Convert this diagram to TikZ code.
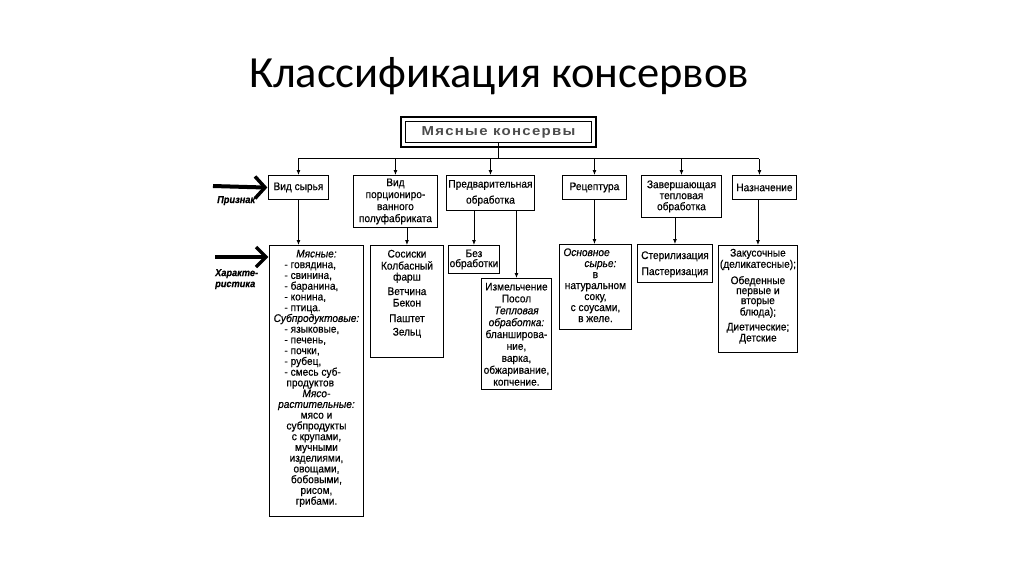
\documentclass[tikz,border=0pt]{standalone}
\usepackage{fontspec}
\setmainfont[FakeStretch=0.92,FakeBold=0.5]{Liberation Sans}
\newfontfamily\titlefont{Carlito}
\newfontfamily\outfont[FakeStretch=1.15,LetterSpace=10]{Liberation Sans}
\usetikzlibrary{arrows.meta,calc}
% box with text starting at top: width, height, top pad, baselineskip, content
\newcommand\bxc[5]{\parbox[c][#2][t]{#1}{\centering\fontsize{11pt}{#4}\selectfont\vspace*{#3}#5\par}}
% box with vertically centred text: width, height, baselineskip, content
\newcommand\bxm[4]{\parbox[c][#2][c]{#1}{\centering\fontsize{11pt}{#3}\selectfont #4\par}}
\newcommand\mbl[1]{\makebox[64pt][l]{#1}}
\tikzset{
  box/.style={draw, line width=0.9pt, inner sep=0pt, anchor=north west, font=\fontsize{11pt}{12pt}\selectfont},
  arr/.style={line width=0.9pt, -{Latex[length=5pt,width=4pt]}},
  conn/.style={line width=0.9pt},
  lbl/.style={inner sep=0pt, font=\bfseries\itshape\fontsize{10pt}{11pt}\selectfont},
  bigbar/.style={line width=4pt},
  chev/.style={line width=3.5pt, miter limit=10}
}
\begin{document}
\begin{tikzpicture}[x=1pt,y=-1pt]
\fill[white] (0,0) rectangle (1024,574);
\useasboundingbox (0,0) rectangle (1024,574);

% title
\node[anchor=base, inner sep=0pt] (title) at (499,87) {\titlefont\fontsize{44.5pt}{50pt}\selectfont Классификация консервов};

% top box
\node[box] (top) at (405,121) {\parbox[c][21pt][c]{186pt}{\centering\outfont\bfseries\fontsize{13pt}{13pt}\selectfont\color{black!70}Мясные консервы}};
\draw[line width=2.2pt] ([shift={(-4pt,4pt)}]top.north west) rectangle ([shift={(4pt,-4pt)}]top.south east);

% row 1
\node[box] (vs) at (268,175) {\bxm{60pt}{24pt}{11pt}{Вид сырья}};
\node[box] (vp) at (353,175) {\bxm{84pt}{52pt}{12pt}{Вид\\порциониро-\\ванного\\полуфабриката}};
\node[box] (pr) at (446,175) {\bxm{88pt}{35pt}{16pt}{Предварительная\\обработка}};
\node[box] (rc) at (562,175) {\bxm{64pt}{24pt}{11pt}{Рецептура}};
\node[box] (zt) at (641,175) {\bxm{80pt}{42pt}{11pt}{Завершающая\\тепловая\\обработка}};
\node[box] (nz) at (732,175) {\bxm{64pt}{24pt}{11pt}{Назначение}};

% row 2
\node[box] (ch) at (269,245) {\bxc{94pt}{271pt}{4.4pt}{10.75pt}{%
\textit{Мясные:}\\
\mbl{- говядина,}\\
\mbl{- свинина,}\\
\mbl{- баранина,}\\
\mbl{- конина,}\\
\mbl{- птица.}\\
\textit{Субпродуктовые:}\\
\mbl{- языковые,}\\
\mbl{- печень,}\\
\mbl{- почки,}\\
\mbl{- рубец,}\\
\mbl{- смесь суб-}\\
\mbl{\hspace{2pt}продуктов}\\
\textit{Мясо-}\\
\textit{растительные:}\\
мясо и\\
субпродукты\\
с крупами,\\
мучными\\
изделиями,\\
овощами,\\
бобовыми,\\
рисом,\\
грибами.}};
\node[box] (ss) at (370,245) {\bxc{73pt}{112pt}{4.4pt}{11pt}{Сосиски\\[1pt]Колбасный\\фарш\\[3.5pt]Ветчина\\[0.5pt]Бекон\\[4.5pt]Паштет\\[2.5pt]Зельц}};
\node[box] (bo) at (448,245) {\bxm{51pt}{28pt}{10pt}{Без\\обработки}};
\node[box] (iz) at (481,278) {\bxc{70pt}{111pt}{4.4pt}{11.9pt}{Измельчение\\Посол\\\textit{Тепловая}\\\textit{обработка:}\\бланширова-\\ние,\\варка,\\обжаривание,\\копчение.}};
\node[box] (os) at (559,244) {\bxc{72pt}{85pt}{3.9pt}{11pt}{\makebox[64pt][l]{\textit{Основное}}\\\makebox[64pt][l]{\hspace{21pt}\textit{сырье:}}\\в\\натуральном\\соку,\\с соусами,\\в желе.}};
\node[box] (st) at (637,244) {\bxc{75pt}{38pt}{6.9pt}{16pt}{Стерилизация\\Пастеризация}};
\node[box] (zk) at (718,245) {\bxc{79pt}{107pt}{3.4pt}{10pt}{Закусочные\\(деликатесные);\\[5pt]Обеденные\\первые и\\вторые\\блюда);\\[5pt]Диетические;\\[1pt]Детские}};

% bus
\coordinate (bus) at ($(top.south)+(0,-16pt)$);
\draw[conn] (top.south) -- (bus);
\draw[conn] (vs.north |- bus) -- ([xshift=-5pt]nz.north |- bus);
\foreach \n in {vs,vp,pr,rc,zt}{\draw[arr] (\n.north |- bus) -- (\n.north);}
\draw[arr] ([xshift=-5pt]nz.north |- bus) -- ([xshift=-5pt]nz.north);

% row 1 -> row 2
\draw[arr] (vs.south) -- (vs.south |- ch.north);
\draw[arr] (ss.north |- vp.south) -- (ss.north);
\draw[arr] (bo.north |- pr.south) -- (bo.north);
\draw[arr] (iz.north |- pr.south) -- (iz.north);
\draw[arr] (rc.south) -- (rc.south |- os.north);
\draw[arr] (st.north |- zt.south) -- (st.north);
\draw[arr] (zk.north |- nz.south) -- (zk.north);

% big arrows
\coordinate (pa) at (213,186);
\draw[bigbar] (pa) -- ([xshift=-5pt]vs.west);
\draw[chev] ($(vs.west)+(-13pt,11pt)$) -- ([xshift=-3pt]vs.west) -- ($(vs.west)+(-13pt,-11pt)$);
\node[lbl, anchor=base west] (pz) at (217,203) {Признак};

\coordinate (cp) at ($(ch.north west)+(0,-12pt)$);
\coordinate (ca) at (215,257);
\draw[bigbar] (ca) -- ([xshift=-5pt]cp);
\draw[chev] ($(cp)+(-13pt,10pt)$) -- ([xshift=-3pt]cp) -- ($(cp)+(-13pt,-10pt)$);
\node[lbl, anchor=north west, align=left] (hr) at (215,269) {Характе-\\ристика};
\end{tikzpicture}
\end{document}
